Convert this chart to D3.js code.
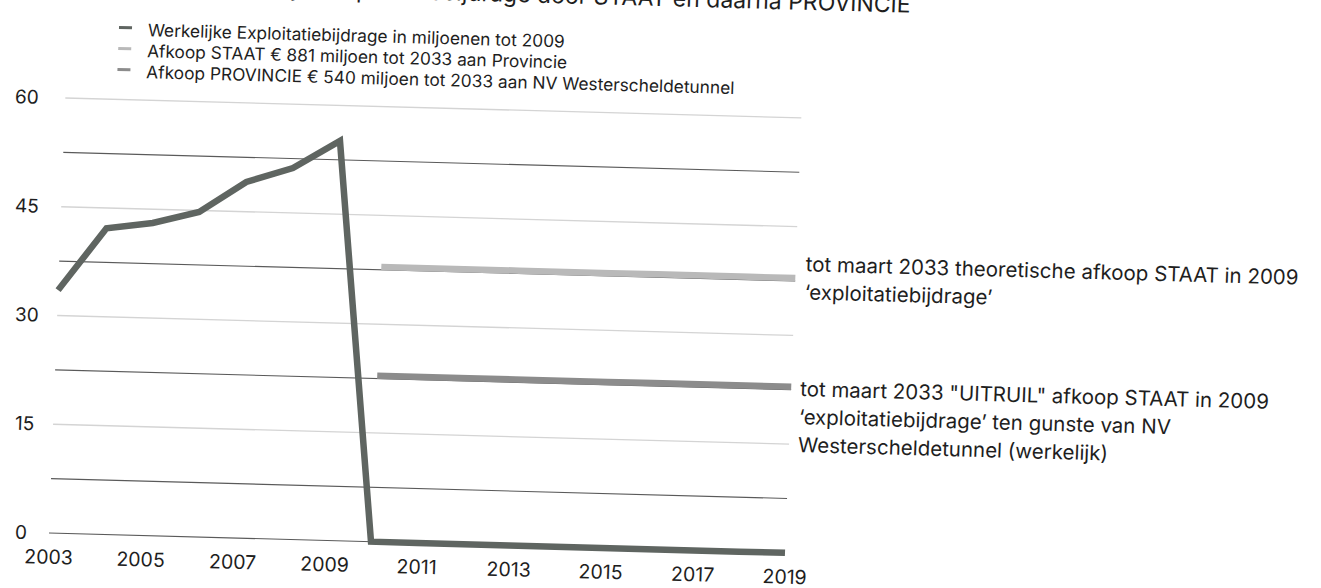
<!DOCTYPE html>
<html>
<head>
<meta charset="utf-8">
<script src="https://cdn.jsdelivr.net/npm/d3@7"></script>
<style>
  body { margin: 0; background: #fff; }
  svg { display: block; font-family: Inter, "Noto Sans", sans-serif; }
</style>
</head>
<body>
<svg id="chart"></svg>
<script>
// Data
const years = [2003, 2004, 2005, 2006, 2007, 2008, 2009, 2010, 2011, 2012, 2013, 2014, 2015, 2016, 2017, 2018, 2019];
const werkelijk = [33.5, 42.2, 43.1, 44.8, 49.1, 51.2, 55.1, 0, 0, 0, 0, 0, 0, 0, 0, 0, 0];
const afkoopStaat = [null, null, null, null, null, null, null, 37.9, 37.9, 37.9, 37.9, 37.9, 37.9, 37.9, 37.9, 37.9, 37.9];
const afkoopProvincie = [null, null, null, null, null, null, null, 22.9, 22.9, 22.9, 22.9, 22.9, 22.9, 22.9, 22.9, 22.9, 22.9];
const xTicks = [2003, 2005, 2007, 2009, 2011, 2013, 2015, 2017, 2019];
const yTicks = [0, 15, 30, 45, 60];
const gridValues = [0, 7.5, 15, 22.5, 30, 37.5, 45, 52.5, 60];
const legendLabels = [
  "Werkelijke Exploitatiebijdrage in miljoenen tot 2009",
  "Afkoop STAAT € 881 miljoen tot 2033 aan Provincie",
  "Afkoop PROVINCIE € 540 miljoen tot 2033 aan NV Westerscheldetunnel"
];
const noteStaat = ["tot maart 2033 theoretische afkoop STAAT in 2009", "‘exploitatiebijdrage’"];
const noteProvincie = ["tot maart 2033 \"UITRUIL\" afkoop STAAT in 2009", "‘exploitatiebijdrage’ ten gunste van NV", "Westerscheldetunnel (werkelijk)"];

const width = 1321, height = 588;
const colors = ["#5f6561", "#b9b9b9", "#8c8c8c"];

const svg = d3.select("#chart").attr("width", width).attr("height", height);

// the photo is slightly tilted and skewed
const s = 0.027, k = 0.0375;
const g = svg.append("g")
  .attr("transform", `matrix(1,${s},${-k},1,${533 * k},${-49 * s})`);

const x = d3.scaleLinear().domain([2003, 2019]).range([49, 785]);
const y = d3.scaleLinear().domain([0, 60]).range([533, 98]);

// gridlines: labelled ones light, in-between ones dark
g.append("g").selectAll("line")
  .data(gridValues)
  .enter()
  .append("line")
  .attr("x1", x(2003))
  .attr("x2", x(2019))
  .attr("y1", d => y(d))
  .attr("y2", d => y(d))
  .attr("stroke", d => (d % 15 === 0 && d !== 0) ? "#d4d4d4" : "#5a5a5a")
  .attr("stroke-width", d => (d % 15 === 0 && d !== 0) ? 1.3 : 1.1);

// axes
const yAxis = g.append("g")
  .call(d3.axisLeft(y).tickValues(yTicks).tickSize(0));
yAxis.select(".domain").remove();
yAxis.selectAll("text")
  .attr("x", d => 15 - k * (y(0) - y(d)))
  .attr("text-anchor", "start")
  .attr("font-size", 19)
  .attr("font-family", "Inter")
  .attr("fill", "#1e1e1e");

const xAxis = g.append("g")
  .attr("transform", `translate(0, ${y(0)})`)
  .call(d3.axisBottom(x).tickValues(xTicks).tickFormat(d3.format("d")).tickSize(0));
xAxis.select(".domain").remove();
xAxis.selectAll("text")
  .attr("y", 24)
  .attr("dy", "0.35em")
  .attr("font-size", 19.5)
  .attr("font-family", "Inter")
  .attr("fill", "#1e1e1e");

// series
const line = d3.line()
  .defined(d => d[1] !== null)
  .x(d => x(d[0]))
  .y(d => y(d[1]));

[afkoopStaat, afkoopProvincie, werkelijk].forEach((vals, i) => {
  const col = [colors[1], colors[2], colors[0]][i];
  g.append("path")
    .datum(years.map((yr, j) => [yr, vals[j]]))
    .attr("d", line)
    .attr("fill", "none")
    .attr("stroke", col)
    .attr("stroke-width", 6.5)
    .attr("stroke-linejoin", "miter");
});

// legend
const legend = g.append("g").attr("transform", "translate(100, 29)");
legendLabels.forEach((lbl, i) => {
  legend.append("line")
    .attr("x1", 0).attr("x2", 13)
    .attr("y1", i * 21 - 3).attr("y2", i * 21 - 3)
    .attr("stroke", colors[i])
    .attr("stroke-width", 3);
  legend.append("text")
    .attr("x", 29)
    .attr("y", i * 21 + 5)
    .attr("font-size", 17.3)
    .attr("fill", "#1e1e1e")
    .text(lbl);
});

// title (cut off at the top of the photo)
g.append("text")
  .attr("x", 890)
  .attr("y", -10)
  .attr("text-anchor", "end")
  .attr("font-size", 23)
  .attr("fill", "#1e1e1e")
  .text("Werkelijke Exploitatiebijdrage door STAAT en daarna PROVINCIE");

// annotations at the end of the buy-off lines
function note(lines, x0, y0) {
  const t = g.append("text")
    .attr("font-size", 20.5)
    .attr("fill", "#1e1e1e");
  lines.forEach((l, i) => {
    t.append("tspan").attr("x", x0).attr("y", y0 + i * 28).text(l);
  });
}
note(noteStaat, x(2019) + 10, y(37.9) - 7);
note(noteProvincie, x(2019) + 9, y(22.9) + 9);
</script>
</body>
</html>
